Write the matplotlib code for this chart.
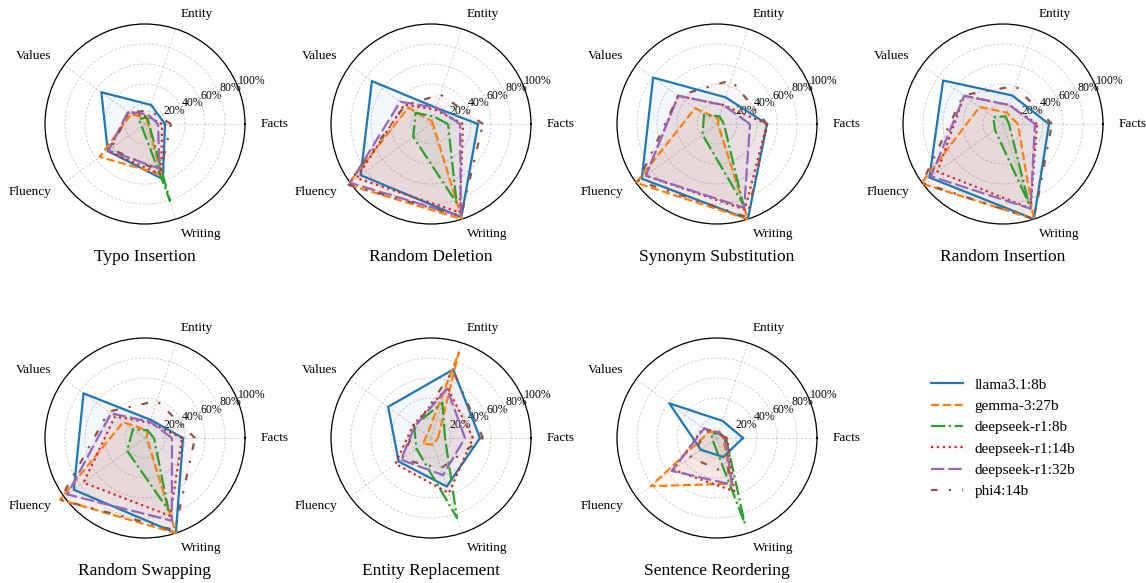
#!/usr/bin/env python3
"""Radar charts of model scores under text perturbations."""

import numpy as np
import matplotlib
matplotlib.use('Agg')
import matplotlib.pyplot as plt
from matplotlib.lines import Line2D

plt.rcParams['font.family'] = 'Liberation Serif'

AXES_LABELS = ['Facts', 'Entity', 'Values', 'Fluency', 'Writing']
MODELS = ['llama3.1:8b', 'gemma-3:27b', 'deepseek-r1:8b', 'deepseek-r1:14b',
          'deepseek-r1:32b', 'phi4:14b']
COLORS = ['tab:blue', 'tab:orange', 'tab:green', 'tab:red', 'tab:purple',
          'tab:brown']
STYLES = ['-', '--', '-.', ':', (0, (6, 1.8)), (0, (3, 5, 1, 5))]

# values in % for Facts, Entity, Values, Fluency, Writing (one row per model)
typo_insertion = [
    [20, 20, 54, 46, 58],
    [3, 6, 17, 56, 53],
    [4, 7, 8, 4, 81],
    [17, 8, 20, 46, 53],
    [13, 10, 21, 45, 47],
    [26, 14, 20, 42, 50],
]
random_deletion = [
    [47, 17, 73, 87, 98],
    [2, 3, 28, 103, 100],
    [17, 8, 19, 22, 83],
    [32, 15, 33, 92, 93],
    [29, 17, 38, 100, 97],
    [52, 31, 32, 103, 97],
]
synonym_substitution = [
    [50, 28, 79, 93, 100],
    [1, 5, 27, 100, 100],
    [7, 8, 16, 18, 84],
    [50, 20, 48, 88, 90],
    [33, 20, 48, 88, 88],
    [50, 46, 48, 97, 98],
]
random_insertion = [
    [46, 30, 74, 91, 100],
    [15, 12, 29, 101, 100],
    [6, 8, 12, 10, 83],
    [34, 20, 48, 81, 89],
    [32, 20, 48, 89, 89],
    [49, 40, 49, 100, 100],
]
random_swapping = [
    [38, 19, 76, 88, 100],
    [2, 8, 27, 105, 100],
    [9, 8, 15, 22, 76],
    [37, 16, 37, 76, 82],
    [27, 17, 42, 96, 87],
    [50, 39, 45, 105, 97],
]
entity_replacement = [
    [49, 72, 53, 40, 51],
    [7, 90, 5, 10, 7],
    [14, 37, 21, 18, 84],
    [42, 53, 22, 44, 58],
    [34, 52, 20, 37, 39],
    [52, 71, 19, 36, 32],
]
sentence_reordering = [
    [26, 18, 59, 20, 20],
    [6, 7, 10, 82, 48],
    [9, 5, 7, 5, 90],
    [10, 5, 17, 54, 56],
    [8, 6, 16, 56, 49],
    [8, 5, 12, 33, 38],
]

PANELS = [
    ('Typo Insertion', typo_insertion),
    ('Random Deletion', random_deletion),
    ('Synonym Substitution', synonym_substitution),
    ('Random Insertion', random_insertion),
    ('Random Swapping', random_swapping),
    ('Entity Replacement', entity_replacement),
    ('Sentence Reordering', sentence_reordering),
]

W, H = 1146, 583
fig = plt.figure(figsize=(W / 100, H / 100), dpi=100)

CENTERS_X = [145, 431, 717, 1003]
CENTERS_Y = [124, 438]
RADIUS = 100

angles = np.linspace(0, 2 * np.pi, len(AXES_LABELS), endpoint=False)
closed = np.concatenate([angles, angles[:1]])

for idx, (name, data) in enumerate(PANELS):
    cx = CENTERS_X[idx % 4]
    cy = CENTERS_Y[idx // 4]
    rect = [(cx - RADIUS) / W, (H - cy - RADIUS) / H,
            2 * RADIUS / W, 2 * RADIUS / H]
    ax = fig.add_axes(rect, projection='polar')
    for vals, col, sty in zip(data, COLORS, STYLES):
        v = np.array(vals + vals[:1], dtype=float)
        ax.plot(closed, v, color=col, linestyle=sty, linewidth=1.6,
                clip_on=False, zorder=3)
        ax.fill(closed, v, color=col, alpha=0.05, clip_on=False, zorder=2)
    ax.set_ylim(0, 100)
    ax.set_yticks([20, 40, 60, 80, 100])
    ax.set_yticklabels(['20%', '40%', '60%', '80%', '100%'], fontsize=8.5)
    ax.set_rlabel_position(22)
    ax.set_xticks(angles)
    ax.set_xticklabels([])
    # axis names, aligned away from the circle
    for ang, lab in zip(angles, AXES_LABELS):
        ha = 'left' if np.cos(ang) > 0.01 else 'right'
        ax.text(ang, 116, lab, ha=ha, va='center', fontsize=9.5,
                clip_on=False)
    ax.grid(True, color='#cccccc', linestyle=(0, (3, 2)), linewidth=0.6)
    ax.spines['polar'].set_linewidth(0.9)
    ax.text(0.5, -0.165, name, transform=ax.transAxes, ha='center',
            va='center', fontsize=12.5)

handles = [Line2D([0], [0], color=c, linestyle=s, linewidth=1.6)
           for c, s in zip(COLORS, STYLES)]
fig.legend(handles, MODELS, loc='center left',
           bbox_to_anchor=(0.80, 0.2487), frameon=False, fontsize=11,
           handlelength=2.1, handletextpad=0.8, labelspacing=0.5)

fig.savefig('out.png', dpi=100)
